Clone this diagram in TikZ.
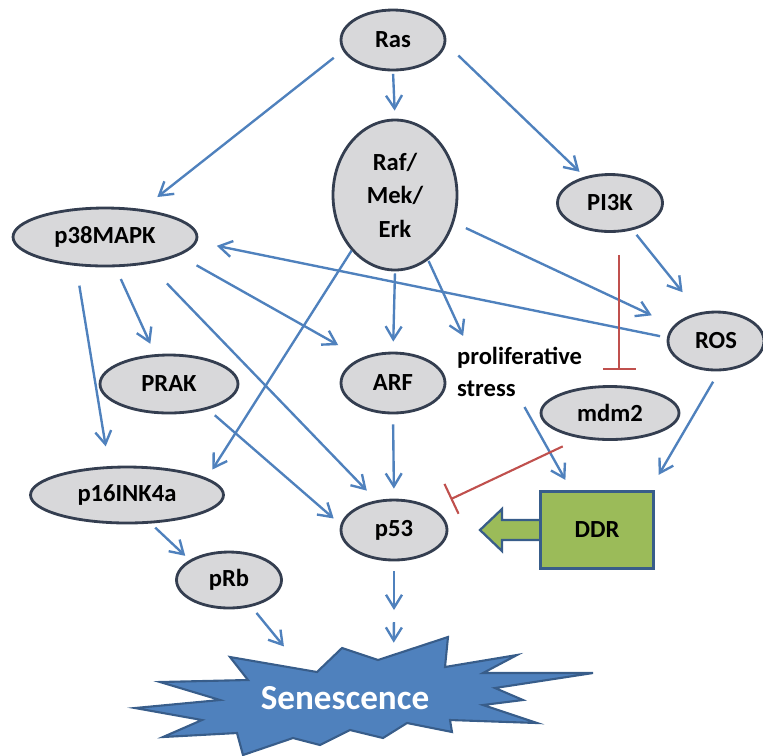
\documentclass[tikz,border=0pt]{standalone}
\usepackage{fontspec}
\setmainfont{Carlito}
\usetikzlibrary{shapes.geometric,arrows.meta}
\definecolor{arrowblue}{RGB}{79,129,189}
\definecolor{inhibred}{RGB}{192,80,77}
\definecolor{nodeline}{RGB}{52,62,80}
\definecolor{nodegray}{RGB}{216,216,218}
\definecolor{ddrgreen}{RGB}{155,187,89}
\definecolor{starline}{RGB}{56,93,138}

\begin{document}
\begin{tikzpicture}[x=0.02cm,y=-0.02cm,
    font=\bfseries\fontsize{14}{19}\selectfont,
    mol/.style={ellipse,draw=nodeline,line width=1.6pt,fill=nodegray,inner sep=0pt},
    act/.style={draw=arrowblue,line width=1.35pt,-{Straight Barb[length=2.6mm,width=3.2mm]}},
    inhib/.style={draw=inhibred,line width=1.2pt,-{Bar[width=6.6mm]}}]
    \useasboundingbox (0,0) rectangle (763,755);

    \node[mol,minimum width=2.08cm,minimum height=1.2cm] (ras) at (393,40) {Ras};
    \node[mol,minimum width=2.48cm,minimum height=3cm,align=center] (raf) at (395,195) {Raf/\\Mek/\\Erk};
    \node[mol,minimum width=2.1cm,minimum height=1.14cm] (pik) at (610,203) {PI3K};
    \node[mol,minimum width=3.68cm,minimum height=1.16cm] (pmapk) at (105,237) {p38MAPK};
    \node[mol,minimum width=1.92cm,minimum height=1.16cm] (ros) at (716,341) {ROS};
    \node[mol,minimum width=2.76cm,minimum height=1.16cm] (prak) at (169,384) {PRAK};
    \node[mol,minimum width=2.08cm,minimum height=1.2cm] (arf) at (393,383) {ARF};
    \node[align=left,anchor=north west,inner sep=1pt,font=\bfseries\fontsize{14}{18}\selectfont] (stress) at (455,345) {proliferative\\stress};
    \node[mol,minimum width=2.76cm,minimum height=1.06cm] (mdm) at (610,413) {mdm2};
    \node[mol,minimum width=3.86cm,minimum height=1.12cm] (pinka) at (127,495) {p16INK4a};
    \node[mol,minimum width=2.12cm,minimum height=1.2cm] (psf) at (394,530) {p53};
    \node[mol,minimum width=2.1cm,minimum height=1.12cm] (prb) at (229,580) {pRb};

    \draw[draw=starline,fill=ddrgreen,line width=1.3pt] (541,520) -- (502,520) -- (502,509) -- (480,530)
        -- (502,551) -- (502,540) -- (541,540);
    \node[draw=starline,fill=ddrgreen,line width=1.3pt,minimum width=2.26cm,minimum height=1.54cm] (ddr) at (597,530) {DDR};

    \draw[draw=starline,fill=arrowblue,line width=1.2pt] (230,657) -- (317,672) -- (342,648) -- (378,660)
        -- (448,637) -- (445,667) -- (517,655) -- (483,673) -- (593,673) -- (495,688) -- (523,700)
        -- (483,705) -- (537,723) -- (450,720) -- (452,732) -- (407,723) -- (383,738) -- (350,730)
        -- (320,745) -- (293,738) -- (243,755) -- (237,733) -- (163,737) -- (202,720) -- (135,708)
        -- (220,700) -- (160,682) -- (248,680) -- cycle;
    \node[text=white,font=\bfseries\fontsize{20}{24}\selectfont,minimum width=6.6cm,minimum height=1.8cm] (sen) at (345,698) {Senescence};
    \coordinate (gap) at (394,616);

    \draw[act,shorten <=2.3mm,shorten >=3.9mm] (ras.192) -- (pmapk.37);
    \draw[act,shorten <=0.5mm,shorten >=1.6mm] (ras.south) -- (raf.north);
    \draw[act,shorten <=3.4mm,shorten >=1.4mm] (ras.356) -- (pik.134);
    \draw[act,shorten <=1.4mm,shorten >=4mm] (ros.176) -- (pmapk.357);
    \draw[act,shorten <=2.6mm,shorten >=4.8mm] (raf.335) -- (ros.160);
    \draw[act,shorten <=1.2mm,shorten >=5.2mm] (pik.310) -- (ros.121);
    \draw[act,shorten <=0.4mm,shorten >=2mm] (raf.south) -- (arf.north);
    \draw[act,shorten <=0.2mm,shorten >=2mm] (raf.297) -- (stress.153);
    \draw[act,shorten >=2mm] (raf.232) -- (pinka.12);
    \draw[act,shorten <=4mm,shorten >=4mm] (pmapk.225) -- (pinka.122);
    \draw[act,shorten <=2.6mm,shorten >=2.3mm] (pmapk.289) -- (prak.115);
    \draw[act,shorten <=4mm,shorten >=5.2mm] (pmapk.346) -- (arf.142);
    \draw[act,shorten <=5.4mm,shorten >=2.7mm] (pmapk.328) -- (psf.121);
    \draw[act,shorten <=1.8mm,shorten >=1.8mm] (prak.327) -- (psf.174);
    \draw[act,shorten <=2mm,shorten >=2mm] (arf.south) -- (psf.north);
    \draw[act,shorten <=2mm,shorten >=2.4mm] (stress.south) -- (ddr.123);
    \draw[act,shorten <=2.4mm,shorten >=3.6mm] (ros.276) -- (ddr.37);
    \draw[act,shorten <=1.2mm,shorten >=1.2mm] (pinka.310) -- (prb.153);
    \draw[act,shorten <=1.6mm,shorten >=1.6mm] (prb.310) -- (sen.141);
    \draw[act,shorten <=2mm,shorten >=1.2mm] (psf.south) -- (gap);
    \draw[act,shorten <=1.2mm,shorten >=2mm] (gap) -- (sen.43);

    \draw[inhib,shorten <=4.4mm,shorten >=3mm] ([xshift=0.18cm]pik.south) -- ([xshift=0.18cm]mdm.north);
    \draw[inhib,shorten <=3.8mm,shorten >=4mm] (mdm.220) -- (psf.30);
\end{tikzpicture}
\end{document}
